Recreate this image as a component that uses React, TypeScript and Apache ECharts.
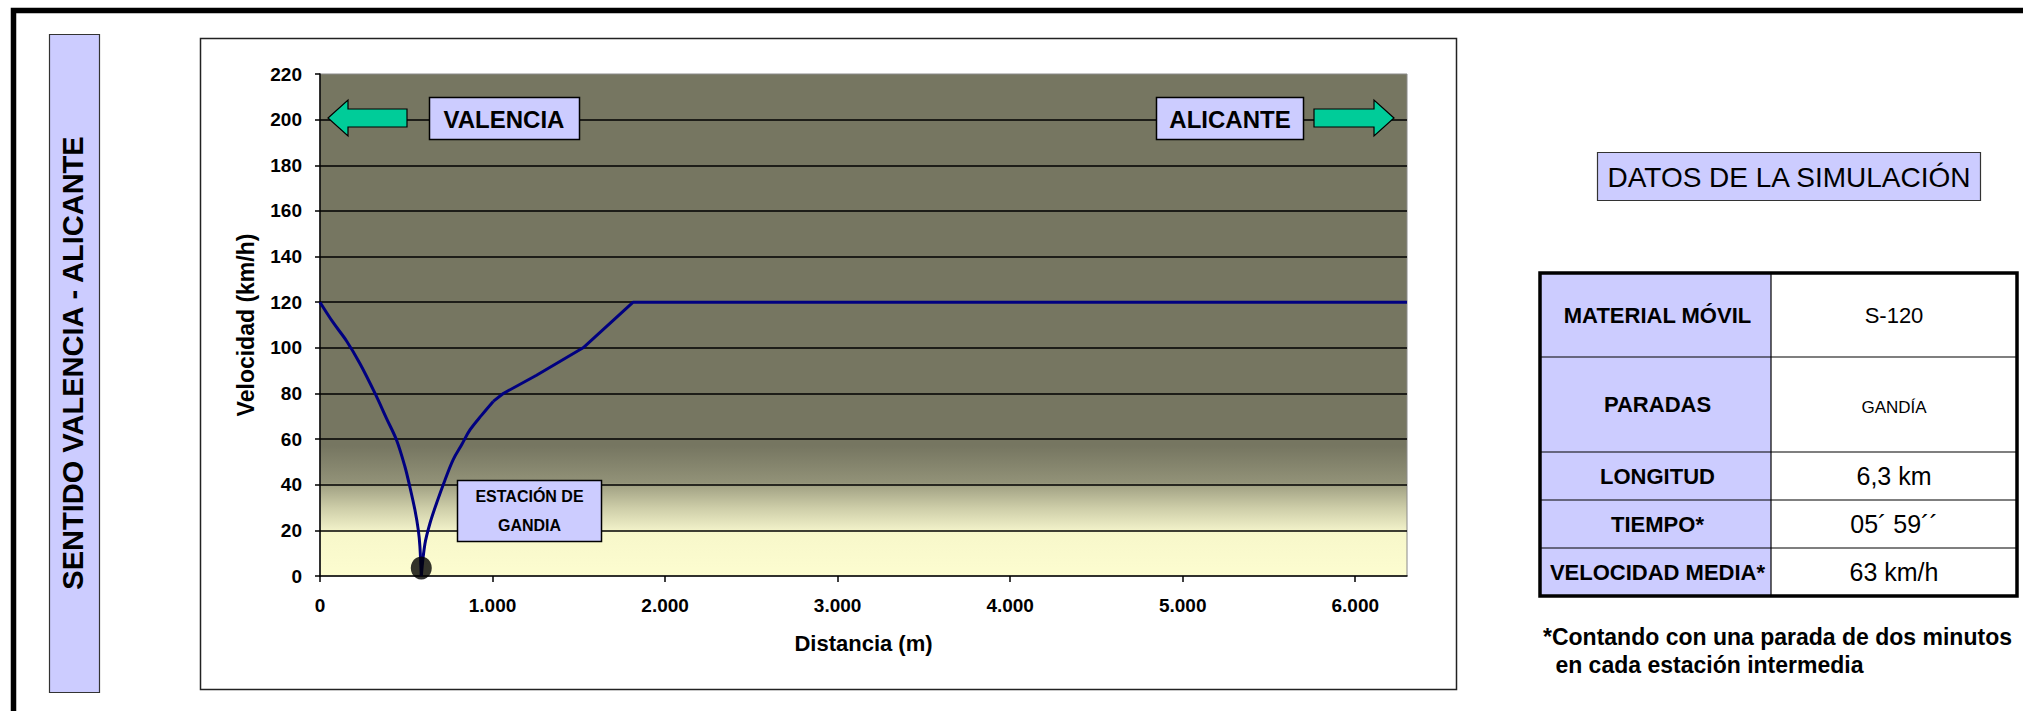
import { useEffect, useRef } from "react";
import * as echarts from "echarts";

const FONT = "'Liberation Sans', Arial, Helvetica, sans-serif";

// Speed profile (distance in m, speed in km/h), split in its three phases
// Braking towards the station
const brakingDistance = [0, 77, 154, 232, 319, 386, 444, 492, 521, 550, 570, 579, 587];
const brakingSpeed = [120, 111, 103, 93, 80, 69, 59.5, 48, 39, 29, 20, 13, 0];
// Leaving the station
const accelDistance = [587, 608, 637, 676, 724, 772, 821, 869, 937, 1004];
const accelSpeed = [0, 14, 23, 32, 42, 51, 57.5, 64, 70.5, 76.5];
// Towards line speed and cruising
const cruiseDistance = [1004, 1062, 1255, 1525, 1815, 6300];
const cruiseSpeed = [76.5, 80, 88, 100, 120, 120];

// Intermediate station (distance in m, speed 0 = stop)
const stationDistance = [587];
const stationSpeed = [0];

// Axis ticks
const xTickValues = [0, 1000, 2000, 3000, 4000, 5000, 6000];
const yMin = 0;
const yMax = 220;
const yStep = 20;
const xMax = 6300;

// Simulation data table
const tableLabels = ["MATERIAL MÓVIL", "PARADAS", "LONGITUD", "TIEMPO*", "VELOCIDAD MEDIA*"];
const tableValues = ["S-120", "GANDÍA", "6,3 km", "05´ 59´´", "63 km/h"];

const footnote = ["*Contando con una parada de dos minutos", " en cada estación intermedia"];

const thousands = (v: number) => String(v).replace(/\B(?=(\d{3})+(?!\d))/g, ".");

const pairs = (xs: number[], ys: number[]) => xs.map((x, i) => [x, ys[i]]);

export default function App() {
  const ref = useRef<HTMLDivElement>(null);

  useEffect(() => {
    if (!ref.current) return;
    const chart = echarts.init(ref.current, null, { renderer: "svg" });

    const lavender = "#CCCCFF";
    const arrowFill = "#00CC99";
    const profileLine = { color: "#000080", width: 3 };

    const boxText = (x: number, y: number, text: string, size: number, weight = "bold") => ({
      type: "text",
      x,
      y,
      z: 101,
      style: {
        text,
        font: `${weight} ${size}px ${FONT}`,
        fill: "#000",
        align: "center",
        verticalAlign: "middle",
      },
    });

    // table geometry
    const tLeft = 1540;
    const tMid = 1771;
    const tRight = 2017;
    const rowEdges = [273, 357, 452, 500, 548, 596];
    const valueSizes = [22, 17, 25, 25, 25];

    const tableGraphics: any[] = [];
    tableGraphics.push({
      type: "rect",
      z: 100,
      shape: { x: tLeft, y: rowEdges[0], width: tMid - tLeft, height: rowEdges[5] - rowEdges[0] },
      style: { fill: lavender },
    });
    tableGraphics.push({
      type: "rect",
      z: 100,
      shape: { x: tMid, y: rowEdges[0], width: tRight - tMid, height: rowEdges[5] - rowEdges[0] },
      style: { fill: "#fff" },
    });
    for (let i = 1; i < rowEdges.length - 1; i++) {
      tableGraphics.push({
        type: "line",
        z: 101,
        shape: { x1: tLeft, y1: rowEdges[i], x2: tRight, y2: rowEdges[i] },
        style: { stroke: "#000", lineWidth: 1.2 },
      });
    }
    tableGraphics.push({
      type: "line",
      z: 101,
      shape: { x1: tMid, y1: rowEdges[0], x2: tMid, y2: rowEdges[5] },
      style: { stroke: "#000", lineWidth: 1.2 },
    });
    tableGraphics.push({
      type: "rect",
      z: 102,
      shape: { x: tLeft, y: rowEdges[0], width: tRight - tLeft, height: rowEdges[5] - rowEdges[0] },
      style: { fill: "none", stroke: "#000", lineWidth: 3.5 },
    });
    tableLabels.forEach((lab, i) => {
      const cy = (rowEdges[i] + rowEdges[i + 1]) / 2;
      tableGraphics.push(boxText((tLeft + tMid) / 2 + 2, cy, lab, 22));
      tableGraphics.push(boxText((tMid + tRight) / 2, cy + (i === 1 ? 3 : 0), tableValues[i], valueSizes[i], "normal"));
    });

    const option: any = {
      animation: false,
      backgroundColor: "#fff",
      grid: {
        left: 320,
        top: 74,
        width: 1087,
        height: 502,
        show: true,
        borderColor: "#8a8a8a",
        borderWidth: 1,
        backgroundColor: new echarts.graphic.LinearGradient(0, 0, 0, 1, [
          { offset: 0, color: "#767661" },
          { offset: 0.741, color: "#767661" },
          { offset: 0.814, color: "#929278" },
          { offset: 0.82, color: "#a2a284" },
          { offset: 0.864, color: "#cdcda8" },
          { offset: 0.905, color: "#eeeec6" },
          { offset: 0.912, color: "#f7f7ca" },
          { offset: 1, color: "#fdfdd0" },
        ]),
      },
      xAxis: {
        type: "value",
        min: 0,
        max: xMax,
        interval: 1000,
        name: "Distancia (m)",
        nameLocation: "middle",
        nameGap: 56,
        nameTextStyle: { fontFamily: FONT, fontWeight: "bold", fontSize: 22, color: "#000" },
        axisLine: { show: true, lineStyle: { color: "#000", width: 1.5 } },
        axisTick: { show: true, length: 6, customValues: xTickValues, lineStyle: { color: "#000", width: 1.5 } },
        axisLabel: {
          customValues: xTickValues,
          margin: 20,
          fontFamily: FONT,
          fontWeight: "bold",
          fontSize: 19,
          color: "#000",
          formatter: (v: number) => thousands(v),
        },
        splitLine: { show: false },
      },
      yAxis: {
        type: "value",
        min: yMin,
        max: yMax,
        interval: yStep,
        name: "Velocidad (km/h)",
        nameLocation: "middle",
        nameGap: 63,
        nameTextStyle: { fontFamily: FONT, fontWeight: "bold", fontSize: 23, color: "#000" },
        axisLine: { show: true, lineStyle: { color: "#000", width: 1.5 } },
        axisTick: { show: true, length: 5, lineStyle: { color: "#000", width: 1.5 } },
        axisLabel: {
          margin: 18,
          padding: [5, 0, 0, 0],
          fontFamily: FONT,
          fontWeight: "bold",
          fontSize: 19,
          color: "#000",
        },
        splitLine: { show: true, showMinLine: false, showMaxLine: false, lineStyle: { color: "#000", width: 1.5 } },
      },
      series: [
        {
          type: "line",
          data: pairs(brakingDistance, brakingSpeed),
          smooth: 0.35,
          symbol: "none",
          lineStyle: profileLine,
          z: 5,
        },
        {
          type: "line",
          data: pairs(accelDistance, accelSpeed),
          smooth: 0.35,
          symbol: "none",
          lineStyle: profileLine,
          z: 5,
        },
        {
          type: "line",
          data: pairs(cruiseDistance, cruiseSpeed),
          symbol: "none",
          lineStyle: profileLine,
          z: 5,
        },
        {
          type: "scatter",
          data: pairs(stationDistance, stationSpeed),
          symbol: "circle",
          symbolSize: [21, 23],
          symbolOffset: [0, -8],
          itemStyle: { color: "#000" },
          z: 6,
        },
      ],
      graphic: [
        // outer frame
        {
          type: "polyline",
          z: 0,
          shape: { points: [[13.5, 730], [13.5, 10.5], [2040, 10.5]] },
          style: { stroke: "#000", lineWidth: 5.5, fill: "none" },
        },
        // direction label
        {
          type: "rect",
          z: 1,
          shape: { x: 49.5, y: 34.5, width: 50, height: 658 },
          style: { fill: lavender, stroke: "#333", lineWidth: 1.2 },
        },
        {
          type: "text",
          x: 73,
          y: 363,
          z: 2,
          rotation: Math.PI / 2,
          style: {
            text: "SENTIDO VALENCIA - ALICANTE",
            font: `bold 29px ${FONT}`,
            fill: "#000",
            align: "center",
            verticalAlign: "middle",
          },
        },
        // chart frame
        {
          type: "rect",
          z: 0,
          shape: { x: 200.5, y: 38.5, width: 1256, height: 651 },
          style: { fill: "none", stroke: "#222", lineWidth: 1.5 },
        },
        // Valencia arrow and box
        {
          type: "polygon",
          z: 100,
          shape: {
            points: [[328, 118], [348, 100], [348, 109], [407, 109], [407, 127], [348, 127], [348, 136]],
          },
          style: { fill: arrowFill, stroke: "#000", lineWidth: 1.2 },
        },
        {
          type: "rect",
          z: 100,
          shape: { x: 429.5, y: 97.5, width: 150, height: 42 },
          style: { fill: lavender, stroke: "#000", lineWidth: 1.5 },
        },
        boxText(504, 119, "VALENCIA", 24),
        // Alicante arrow and box
        {
          type: "rect",
          z: 100,
          shape: { x: 1156.5, y: 97.5, width: 147, height: 42 },
          style: { fill: lavender, stroke: "#000", lineWidth: 1.5 },
        },
        boxText(1230, 119, "ALICANTE", 24),
        {
          type: "polygon",
          z: 100,
          shape: {
            points: [[1394, 118], [1374, 100], [1374, 109], [1314, 109], [1314, 127], [1374, 127], [1374, 136]],
          },
          style: { fill: arrowFill, stroke: "#000", lineWidth: 1.2 },
        },
        // station box
        {
          type: "rect",
          z: 100,
          shape: { x: 457.5, y: 480.5, width: 144, height: 61 },
          style: { fill: lavender, stroke: "#000", lineWidth: 1.5 },
        },
        boxText(529.5, 496, "ESTACIÓN DE", 16),
        boxText(529.5, 525.5, "GANDIA", 16),
        // simulation data header
        {
          type: "rect",
          z: 100,
          shape: { x: 1597.5, y: 152.5, width: 383, height: 48 },
          style: { fill: lavender, stroke: "#333", lineWidth: 1.2 },
        },
        boxText(1789, 177, "DATOS DE LA SIMULACIÓN", 28, "normal"),
        ...tableGraphics,
        // footnote
        {
          type: "text",
          x: 1543,
          y: 637,
          z: 100,
          style: { text: footnote[0], font: `bold 23px ${FONT}`, fill: "#000", align: "left", verticalAlign: "middle" },
        },
        {
          type: "text",
          x: 1549,
          y: 665,
          z: 100,
          style: { text: footnote[1], font: `bold 23px ${FONT}`, fill: "#000", align: "left", verticalAlign: "middle" },
        },
      ],
    };

    chart.setOption(option);
    return () => chart.dispose();
  }, []);

  return (
    <div
      ref={ref}
      style={{ position: "fixed", left: 0, top: 0, width: 2023, height: 711, background: "#fff" }}
    />
  );
}
